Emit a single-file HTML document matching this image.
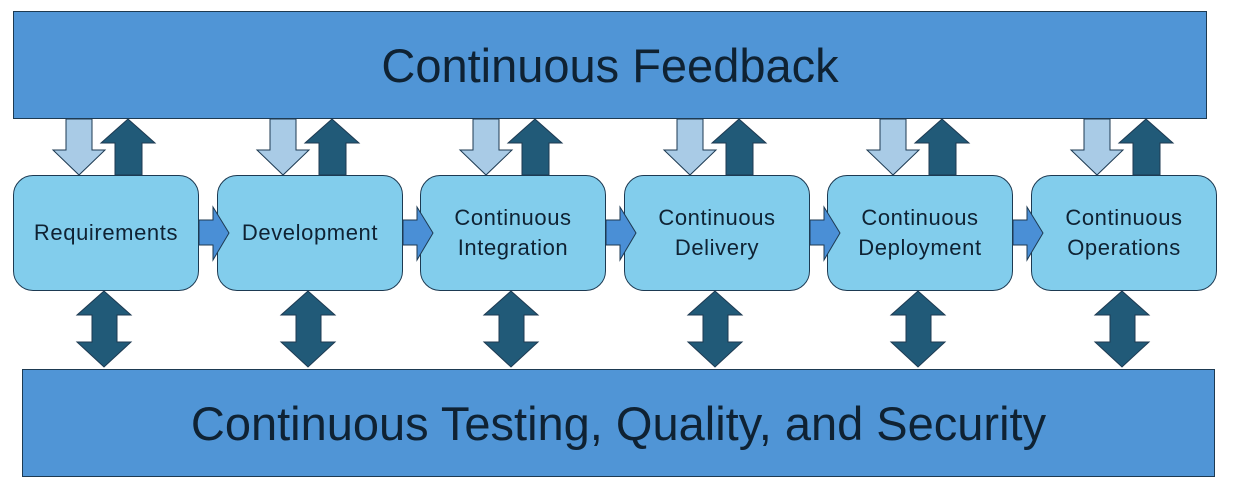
<!DOCTYPE html>
<html><head><style>
body{margin:0;width:1234px;height:492px;background:#fff;position:relative;overflow:hidden;font-family:"Liberation Sans",sans-serif;}
.bar{position:absolute;background:#5095d6;border:1.5px solid #1d3a52;box-sizing:border-box;display:flex;align-items:center;justify-content:center;color:#0f2233;font-size:47px;}
.box{position:absolute;top:175px;width:186px;height:116px;background:#82cdec;border:1.5px solid #1d3a52;border-radius:20px;box-sizing:border-box;display:flex;align-items:center;justify-content:center;text-align:center;color:#0f2233;font-size:22px;letter-spacing:0.6px;line-height:30px;}
svg{position:absolute;left:0;top:0;}
</style></head><body>
<div class="bar" style="left:13px;top:11px;width:1194px;height:108px;">Continuous Feedback</div>
<div class="bar" style="left:22px;top:369px;width:1193px;height:108px;">Continuous Testing, Quality, and Security</div>
<div class="box" style="left:13px;">Requirements</div>
<div class="box" style="left:217px;">Development</div>
<div class="box" style="left:420px;">Continuous<br>Integration</div>
<div class="box" style="left:624px;">Continuous<br>Delivery</div>
<div class="box" style="left:827px;">Continuous<br>Deployment</div>
<div class="box" style="left:1031px;">Continuous<br>Operations</div>
<svg width="1234" height="492">
<g stroke="#1d3a52" stroke-width="1">
<g id="g0">
<polygon points="66,119 92,119 92,150 105,150 79,175 53,150 66,150" fill="#a9cbe6"/>
<polygon points="115,175 142,175 142,143 155,143 128,119 101,143 115,143" fill="#215a78"/>
<polygon points="104,291 77,315 92,315 92,342 77,342 104,367 131,342 117,342 117,315 131,315" fill="#215a78"/>
<polygon points="199,220 213,220 213,207 229,233 213,260 213,245 199,245" fill="#4a8fd6"/>
</g>
<use href="#g0" x="204"/>
<use href="#g0" x="407"/>
<use href="#g0" x="611"/>
<use href="#g0" x="814"/>
<g transform="translate(1018,0)">
<polygon points="66,119 92,119 92,150 105,150 79,175 53,150 66,150" fill="#a9cbe6"/>
<polygon points="115,175 142,175 142,143 155,143 128,119 101,143 115,143" fill="#215a78"/>
<polygon points="104,291 77,315 92,315 92,342 77,342 104,367 131,342 117,342 117,315 131,315" fill="#215a78"/>
</g>
</g>
</svg>
</body></html>
